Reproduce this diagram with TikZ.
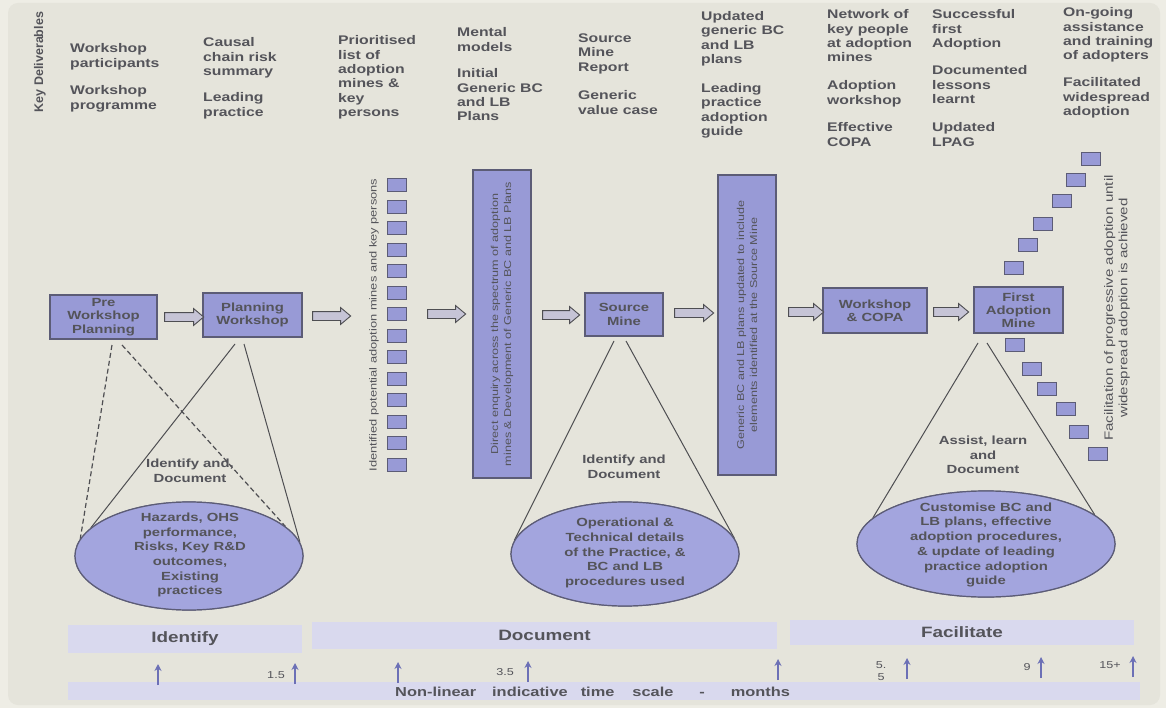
\documentclass[tikz,border=0pt]{standalone}
\usepackage{fontspec}
\setmainfont{Liberation Sans}[FakeStretch=1.26]
\newfontfamily\plainsans{Liberation Sans}
\usetikzlibrary{shapes.geometric,shapes.arrows,arrows.meta}
\definecolor{bgout}{RGB}{238,237,229}
\definecolor{bgin}{RGB}{229,228,219}
\definecolor{txt}{RGB}{84,84,90}
\definecolor{boxfill}{RGB}{152,154,214}
\definecolor{boxline}{RGB}{92,92,118}
\definecolor{ellfill}{RGB}{163,165,222}
\definecolor{barfill}{RGB}{217,217,238}
\definecolor{arrblue}{RGB}{108,112,182}
\definecolor{blockfill}{RGB}{198,196,214}
\definecolor{lineg}{RGB}{78,78,82}
\begin{document}
\begin{tikzpicture}[x=1pt,y=-1pt,
  deliv/.style={anchor=north west, align=left, inner sep=0, font=\fontsize{12.5}{14.4}\selectfont\bfseries, text=txt},
  procbox/.style={draw=boxline, line width=1.3pt, fill=boxfill, inner sep=0, align=center, font=\fontsize{11.8}{13.2}\selectfont\bfseries, text=txt},
  tallbox/.style={draw=boxline, line width=1.3pt, fill=boxfill, inner sep=0, align=center, rotate=90, font=\fontsize{10}{13}\selectfont, text=txt},
  sqbox/.style={draw=boxline, line width=0.9pt, fill=boxfill, minimum width=19, minimum height=13, inner sep=0},
  rottext/.style={rotate=90, align=center, inner sep=0, text=txt},
  blk/.style={single arrow, draw=lineg, fill=blockfill, line width=0.9pt, minimum height=37, inner sep=4pt, single arrow head extend=4pt, single arrow tip angle=80},
  ell/.style={ellipse, draw=boxline, fill=ellfill, line width=1.2pt, inner sep=0},
  eltext/.style={align=center, inner sep=0, font=\fontsize{11.8}{14.7}\selectfont\bfseries, text=txt},
  cone/.style={draw=lineg, line width=1pt},
  conedash/.style={cone, line width=1.2pt, dash pattern=on 5pt off 3pt},
  phase/.style={fill=barfill, draw=none, inner sep=0, font=\fontsize{15}{18}\selectfont\bfseries, text=txt},
  uparr/.style={draw=arrblue, line width=1.7pt, -{Stealth[length=7pt,width=7pt]}},
  lbl/.style={inner sep=0, align=center, font=\fontsize{10}{12.5}\selectfont, text=txt}
]
\useasboundingbox (0,0) rectangle (1166,708);
\fill[bgout] (0,0) rectangle (1166,708);
\fill[bgin, rounded corners=10pt] (8,3) rectangle (1160,705);

% Key deliverables
\node[rottext, font=\plainsans\fontsize{12.5}{14}\selectfont\bfseries] (kd) at (40,62) {Key Deliverables};
\node[deliv] (d1a) at (70,43.5) {Workshop\\participants};
\node[deliv] (d1b) at (70,85.5) {Workshop\\programme};
\node[deliv] (d2a) at (203,37.5) {Causal\\chain risk\\summary};
\node[deliv] (d2b) at (203,92.5) {Leading\\practice};
\node[deliv] (d3a) at (338,35.5) {Prioritised\\list of\\adoption\\mines \&\\key\\persons};
\node[deliv] (d4a) at (457,27.5) {Mental\\models};
\node[deliv] (d4b) at (457,68.5) {Initial\\Generic BC\\and LB\\Plans};
\node[deliv] (d5a) at (578,33.5) {Source\\Mine\\Report};
\node[deliv] (d5b) at (578,90.5) {Generic\\value case};
\node[deliv] (d6a) at (701,11) {Updated\\generic BC\\and LB\\plans};
\node[deliv] (d6b) at (701,83) {Leading\\practice\\adoption\\guide};
\node[deliv] (d7a) at (827,9.5) {Network of\\key people\\at adoption\\mines};
\node[deliv] (d7b) at (827,80.5) {Adoption\\workshop};
\node[deliv] (d7c) at (827,122.5) {Effective\\COPA};
\node[deliv] (d8a) at (932,9.5) {Successful\\first\\Adoption};
\node[deliv] (d8b) at (932,65.5) {Documented\\lessons\\learnt};
\node[deliv] (d8c) at (932,122.5) {Updated\\LPAG};
\node[deliv] (d9a) at (1063,7.5) {On-going\\assistance\\and training\\of adopters};
\node[deliv] (d9b) at (1063,77.5) {Facilitated\\widespread\\adoption};

% cone lines (drawn first)
\coordinate (c1a) at (112,345);
\coordinate (c1b) at (122,345);
\coordinate (c1c) at (235,344);
\coordinate (c1d) at (244,344);
\coordinate (c2a) at (614,341);
\coordinate (c2b) at (626,341);
\coordinate (c3a) at (978,343);
\coordinate (c3b) at (987,343);
\node[ell, minimum width=228, minimum height=108] (e1) at (189,556) {};
\node[ell, minimum width=228, minimum height=104] (e2) at (625,554) {};
\node[ell, minimum width=258, minimum height=106] (e3) at (986,544) {};
\draw[conedash] (c1a) -- (e1.171);
\draw[conedash] (c1b) -- (e1.17);
\draw[cone] (c1c) -- (e1.164);
\draw[cone] (c1d) -- (e1.7);
\draw[cone] (c2a) -- (e2.173);
\draw[cone] (c2b) -- (e2.8);
\draw[cone] (c3a) -- (e3.167);
\draw[cone] (c3b) -- (e3.15);
\node[ell, minimum width=228, minimum height=108] at (e1.center) {};
\node[ell, minimum width=228, minimum height=104] at (e2.center) {};
\node[ell, minimum width=258, minimum height=106] at (e3.center) {};

\node[eltext] (e1t) at (190,555) {Hazards, OHS\\performance,\\Risks, Key R\&D\\outcomes,\\Existing\\practices};
\node[eltext] (e2t) at (625,553) {Operational \&\\Technical details\\of the Practice, \&\\BC and LB\\procedures used};
\node[eltext] (e3t) at (986,545) {Customise BC and\\LB plans, effective\\adoption procedures,\\\& update of leading\\practice adoption\\guide};
\node[eltext] (c1t) at (190,471) {Identify and,\\Document};
\node[eltext] (c2t) at (624,467) {Identify and\\Document};
\node[eltext] (c3t) at (983,455) {Assist, learn\\and\\Document};

% process boxes
\node[procbox, minimum width=107, minimum height=44] (pw) at (103.5,317) {Pre\\Workshop\\Planning};
\node[procbox, minimum width=99, minimum height=44] (plw) at (252.5,315) {Planning\\Workshop};
\node[procbox, minimum width=78, minimum height=43] (sm) at (624,314.5) {Source\\Mine};
\node[procbox, minimum width=104, minimum height=45] (wc) at (875,310.5) {Workshop\\\& COPA};
\node[procbox, minimum width=89, minimum height=46] (fa) at (1018.5,310) {First\\Adoption\\Mine};
\node[tallbox, minimum width=308, minimum height=58] (tb1) at (502,324) {Direct enquiry across the spectrum of adoption\\mines \& Development of Generic BC and LB Plans};
\node[tallbox, minimum width=300, minimum height=58] (tb2) at (747,325) {Generic BC and LB plans updated to include\\elements identified at the Source Mine};

% squares column
\foreach \k in {0,...,13} {
  \node[sqbox] (q\k) at (397,185+21.5*\k) {};
}
\node[rottext, font=\fontsize{10.2}{12}\selectfont] (qt) at (374,325) {Identified potential adoption mines and key persons};

% diagonal squares
\node[sqbox] (u1) at (1091,158.5) {};
\node[sqbox] (u2) at (1076,180) {};
\node[sqbox] (u3) at (1062,200.5) {};
\node[sqbox] (u4) at (1043,223.5) {};
\node[sqbox] (u5) at (1027.5,245) {};
\node[sqbox] (u6) at (1014,268) {};
\node[sqbox] (l1) at (1015,345) {};
\node[sqbox] (l2) at (1032,368.5) {};
\node[sqbox] (l3) at (1047,388.5) {};
\node[sqbox] (l4) at (1066,408.5) {};
\node[sqbox] (l5) at (1078.5,431.5) {};
\node[sqbox] (l6) at (1097.5,453.5) {};
\node[rottext, font=\fontsize{12}{14.5}\selectfont] (ft) at (1117,308) {Facilitation of progressive adoption until\\widespread adoption is achieved};

% block arrows
\node[blk, minimum height=39] (ar1) at (181.5,317) {};
\node[blk, minimum height=38] (ar2) at (329,316) {};
\node[blk, minimum height=38] (ar3) at (444,314) {};
\node[blk, minimum height=37] (ar4) at (558.5,315) {};
\node[blk, minimum height=39] (ar5) at (691.5,313) {};
\node[blk, minimum height=35] (ar6) at (803.5,312) {};
\node[blk, minimum height=35] (ar7) at (948.5,312) {};

% phases
\node[phase, minimum width=234, minimum height=28] (ph1) at (185,639) {Identify};
\node[phase, minimum width=465, minimum height=27] (ph2) at (544.5,635.5) {Document};
\node[phase, minimum width=344, minimum height=25] (ph3) at (962,632.5) {Facilitate};
\node[fill=barfill, inner sep=0, minimum width=1072, minimum height=18] (tb) at (604,691) {};
\node[anchor=west, inner sep=0, font=\fontsize{13}{15}\selectfont\bfseries, text=txt] (tbt) at (395,692)
  {Non-linear\hspace{16pt}indicative\hspace{13pt}time\hspace{18pt}scale\hspace{26pt}-\hspace{26pt}months};

% time arrows
\foreach \n/\x/\yb in {t1/158/685, t2/295/684, t3/398/683, t4/528/682, t5/778/680, t6/907/679, t7/1041/678, t8/1133/677} {
  \coordinate (\n b) at (\x,\yb);
  \coordinate (\n t) at (\x,\yb-21);
  \draw[uparr] (\n b) -- (\n t);
}
\node[lbl] (l15) at (276,675) {1.5};
\node[lbl] (l35) at (505,672) {3.5};
\node[lbl] (l55) at (881,671) {5.\\5};
\node[lbl] (l9) at (1027,667) {9};
\node[lbl] (l15p) at (1110,665) {15+};
\end{tikzpicture}
\end{document}
